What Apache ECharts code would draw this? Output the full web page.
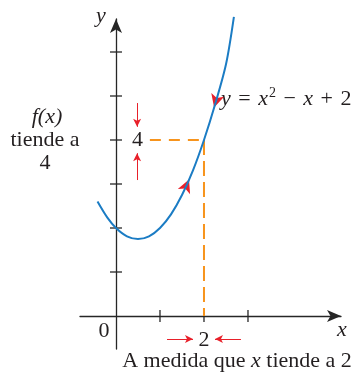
<!DOCTYPE html>
<html>
<head>
<meta charset="utf-8">
<script src="https://cdn.jsdelivr.net/npm/echarts@6/dist/echarts.min.js"></script>
<style>html,body{margin:0;padding:0;background:#fff;overflow:hidden}#c{width:358px;height:374px}</style>
</head>
<body>
<div id="c"></div>
<script>
// ---- data ----
const curveX = [-0.42, -0.2, 0, 0.25, 0.5, 0.75, 1, 1.25, 1.5, 1.75, 2, 2.25, 2.5, 2.68];
const curveY = [2.6, 2.24, 2.0, 1.81, 1.75, 1.81, 2.0, 2.31, 2.75, 3.31, 4.0, 4.8, 5.72, 6.8];
const xTicks = [1, 2, 3];
const yTicks = [1, 2, 3, 4, 5, 6];
const xLabelValues = [2];
const yLabelValues = [4];
const limitX = 2;
const limitY = 4;
const dashStartX = 0.77;
// arrows on the curve: [x, y, rotation]
const curveArrows = [[2.23, 4.74, 164], [1.66, 3.1, -23]];
// approach arrows: [x1, y1, x2, y2]
const approachArrows = [
  [0.48, 4.84, 0.48, 4.3],
  [0.48, 3.09, 0.48, 3.7],
  [1.16, -0.52, 1.75, -0.52],
  [2.84, -0.52, 2.25, -0.52]
];

const AX = '#262626', TXT = '#231f20', BLUE = '#1b7cc4', ORANGE = '#f7941d', RED = '#e8202a';
const SERIF = '"Liberation Serif", "DejaVu Serif", serif';
const FS = 22;

const chart = echarts.init(document.getElementById('c'), null, {renderer: 'canvas', width: 358, height: 374});
const option = {
  animation: false,
  grid: {left: 80, top: 19, width: 261, height: 330, containLabel: false},
  xAxis: {
    type: 'value', min: -0.818, max: 5.114,
    axisLine: {onZero: true, lineStyle: {color: AX, width: 1.3}, symbol: ['none', 'arrow'], symbolSize: [9, 14]},
    axisTick: {show: false},
    splitLine: {show: false},
    axisLabel: {show: false}
  },
  yAxis: {
    type: 'value', min: -0.75, max: 6.75,
    axisLine: {onZero: true, lineStyle: {color: AX, width: 1.3}, symbol: ['none', 'arrow'], symbolSize: [9, 14]},
    axisTick: {show: false},
    splitLine: {show: false},
    axisLabel: {show: false}
  },
  series: [
    {
      type: 'scatter', silent: true,
      data: xTicks.map(v => [v, 0]),
      symbol: 'rect', symbolSize: [1.3, 12],
      itemStyle: {color: AX, opacity: 1}
    },
    {
      type: 'scatter', silent: true,
      data: yTicks.map(v => [0, v]),
      symbol: 'rect', symbolSize: [12, 1.3],
      itemStyle: {color: AX, opacity: 1}
    },
    {
      type: 'scatter', silent: true, symbolSize: 0,
      itemStyle: {opacity: 1},
      data: xLabelValues.map(v => [v, 0]),
      label: {show: true, position: 'bottom', distance: 13, formatter: p => String(p.value[0]),
        fontFamily: SERIF, fontSize: FS, color: TXT, opacity: 1}
    },
    {
      type: 'scatter', silent: true, symbolSize: 0,
      itemStyle: {opacity: 1},
      data: yLabelValues.map(v => [0, v]),
      label: {show: true, position: 'right', distance: 16, formatter: p => String(p.value[1]),
        fontFamily: SERIF, fontSize: FS, color: TXT, opacity: 1}
    },
    {
      type: 'line', silent: true, symbol: 'none',
      data: [[dashStartX, limitY], [limitX, limitY]],
      lineStyle: {color: ORANGE, width: 2, type: [11, 8]}
    },
    {
      type: 'line', silent: true, symbol: 'none',
      data: [[limitX, limitY], [limitX, 0]],
      lineStyle: {color: ORANGE, width: 2, type: [15, 6]}
    },
    {
      type: 'line', silent: true, symbol: 'none', smooth: 0.3, clip: false,
      data: curveX.map((x, i) => [x, curveY[i]]),
      lineStyle: {color: BLUE, width: 2}
    },
    {
      type: 'scatter', silent: true, clip: false,
      data: curveArrows.map(a => ({value: [a[0], a[1]], symbolRotate: a[2]})),
      symbol: 'arrow', symbolSize: [10, 13],
      itemStyle: {color: RED, opacity: 1}
    },
    {
      type: 'line', silent: true, data: [],
      markLine: {
        silent: true, animation: false,
        symbol: ['none', 'arrow'], symbolSize: [6, 8],
        label: {show: false},
        lineStyle: {color: RED, width: 1, type: 'solid'},
        data: approachArrows.map(a => [{coord: [a[0], a[1]]}, {coord: [a[2], a[3]]}])
      }
    }
  ],
  graphic: [
    {type: 'text', x: 101, y: 16, style: {text: 'y', font: 'italic ' + FS + 'px ' + SERIF, fill: TXT, align: 'center', verticalAlign: 'middle'}},
    {type: 'text', x: 342, y: 330, style: {text: 'x', font: 'italic ' + FS + 'px ' + SERIF, fill: TXT, align: 'center', verticalAlign: 'middle'}},
    {type: 'text', x: 104, y: 331, style: {text: '0', font: FS + 'px ' + SERIF, fill: TXT, align: 'center', verticalAlign: 'middle'}},
    {type: 'text', x: 47, y: 117, style: {text: 'f(x)', font: 'italic ' + FS + 'px ' + SERIF, fill: TXT, align: 'center', verticalAlign: 'middle'}},
    {type: 'text', x: 45, y: 140, style: {text: 'tiende a', font: FS + 'px ' + SERIF, fill: TXT, align: 'center', verticalAlign: 'middle'}},
    {type: 'text', x: 45, y: 163, style: {text: '4', font: FS + 'px ' + SERIF, fill: TXT, align: 'center', verticalAlign: 'middle'}},
    {type: 'text', x: 221, y: 99, style: {
      align: 'left', verticalAlign: 'middle',
      rich: {
        n: {fontFamily: SERIF, fontSize: FS, fill: TXT},
        o: {fontFamily: SERIF, fontSize: FS, fill: TXT, padding: [0, 2]},
        i: {fontFamily: SERIF, fontSize: FS, fontStyle: 'italic', fill: TXT},
        s: {fontFamily: SERIF, fontSize: 14, fill: TXT, verticalAlign: 'top', padding: [0, 0, 12, 1]}
      },
      text: '{i|y}{o| = }{i|x}{s|2}{o| − }{i|x}{o| + }{n|2}'
    }},
    {type: 'text', x: 237, y: 361, style: {
      align: 'center', verticalAlign: 'middle',
      rich: {
        n: {fontFamily: SERIF, fontSize: FS, fill: TXT},
        i: {fontFamily: SERIF, fontSize: FS, fontStyle: 'italic', fill: TXT}
      },
      text: '{n|A medida que }{i|x}{n| tiende a 2}'
    }}
  ]
};
chart.setOption(option);
</script>
</body>
</html>
